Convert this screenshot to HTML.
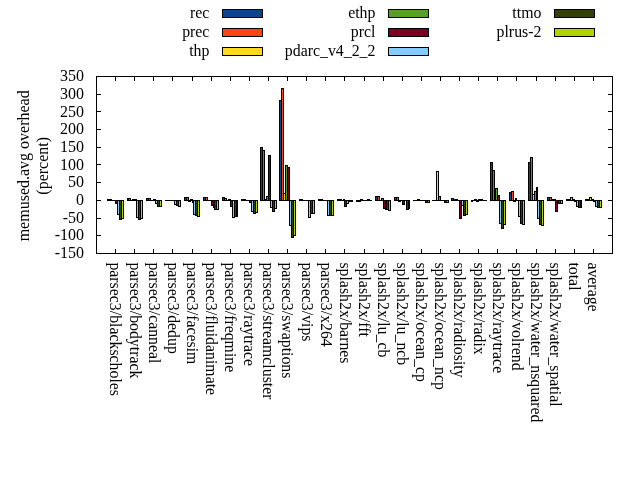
<!DOCTYPE html>
<html><head><meta charset="utf-8"><title>memused.avg overhead</title>
<style>
html,body{margin:0;padding:0;background:#fff;}
svg{display:block;will-change:transform;}
text{font-family:"Liberation Serif",serif;fill:#000;}
</style></head>
<body>
<svg width="640" height="480" viewBox="0 0 640 480" font-size="16">
<rect width="640" height="480" fill="#fff"/>
<g shape-rendering="crispEdges">
<path fill="#000" d="M107 199h3v2h-3zM127 198h2v3h-2zM146 198h3v3h-3zM165 200h3v1h-3zM184 197h3v4h-3zM203 197h3v4h-3zM222 197h3v4h-3zM241 199h3v2h-3zM260 147h3v54h-3zM279 100h3v101h-3zM299 199h2v2h-2zM318 199h3v2h-3zM337 199h3v2h-3zM356 200h3v2h-3zM375 196h3v5h-3zM394 197h3v4h-3zM413 200h3v1h-3zM432 200h3v1h-3zM451 198h3v3h-3zM471 200h2v2h-2zM490 162h3v39h-3zM509 192h3v9h-3zM528 162h3v39h-3zM547 197h3v4h-3zM566 199h3v2h-3zM585 199h3v2h-3zM109 199h3v2h-3zM128 198h3v3h-3zM148 198h3v3h-3zM167 200h3v1h-3zM186 197h3v4h-3zM205 197h3v4h-3zM224 198h3v3h-3zM243 199h3v2h-3zM262 150h3v51h-3zM281 88h3v113h-3zM300 199h3v2h-3zM320 199h3v2h-3zM339 199h3v2h-3zM358 200h3v2h-3zM377 196h3v5h-3zM396 197h3v4h-3zM415 200h3v1h-3zM434 200h3v1h-3zM453 199h3v2h-3zM472 200h3v1h-3zM492 170h3v31h-3zM511 191h3v10h-3zM530 157h3v44h-3zM549 197h3v4h-3zM568 199h3v2h-3zM587 199h3v2h-3zM111 200h3v1h-3zM130 200h3v1h-3zM150 200h2v1h-2zM169 200h3v1h-3zM188 200h3v2h-3zM207 200h3v1h-3zM226 200h3v1h-3zM245 200h3v1h-3zM264 199h3v2h-3zM283 193h3v8h-3zM302 200h3v1h-3zM322 200h2v1h-2zM341 200h3v1h-3zM360 199h3v2h-3zM379 200h3v1h-3zM398 200h3v2h-3zM417 199h3v2h-3zM436 171h3v30h-3zM455 199h3v2h-3zM474 199h3v2h-3zM494 189h2v12h-2zM513 200h3v2h-3zM532 194h3v7h-3zM551 199h3v2h-3zM570 197h3v4h-3zM589 197h3v4h-3zM113 200h3v1h-3zM132 199h3v2h-3zM151 200h3v1h-3zM171 200h2v1h-2zM190 199h3v2h-3zM209 200h3v1h-3zM228 199h3v2h-3zM247 200h3v1h-3zM266 196h3v5h-3zM285 165h3v36h-3zM304 200h3v1h-3zM323 200h3v1h-3zM343 199h2v2h-2zM362 200h3v1h-3zM381 198h3v3h-3zM400 200h3v1h-3zM419 200h3v1h-3zM438 196h3v5h-3zM457 200h3v1h-3zM476 200h3v2h-3zM495 188h3v13h-3zM515 198h2v3h-2zM534 191h3v10h-3zM553 199h3v2h-3zM572 199h3v2h-3zM591 199h3v2h-3zM115 200h3v4h-3zM134 199h3v2h-3zM153 199h3v2h-3zM172 200h3v1h-3zM192 200h2v3h-2zM211 200h3v6h-3zM230 200h3v7h-3zM249 200h3v3h-3zM268 155h3v46h-3zM287 167h3v34h-3zM306 200h3v1h-3zM325 200h3v1h-3zM344 200h3v7h-3zM364 200h2v1h-2zM383 200h3v9h-3zM402 200h3v5h-3zM421 200h3v1h-3zM440 200h3v1h-3zM459 200h3v19h-3zM478 199h3v2h-3zM497 195h3v6h-3zM516 200h3v1h-3zM536 187h2v14h-2zM555 200h3v12h-3zM574 200h3v2h-3zM593 200h3v2h-3zM117 200h3v15h-3zM136 200h3v18h-3zM155 200h3v4h-3zM174 200h3v5h-3zM193 200h3v15h-3zM213 200h2v8h-2zM232 200h3v18h-3zM251 200h3v12h-3zM270 200h3v8h-3zM289 200h3v26h-3zM308 200h3v18h-3zM327 200h3v16h-3zM346 200h3v4h-3zM365 200h3v1h-3zM385 200h2v10h-2zM404 200h3v1h-3zM423 200h3v1h-3zM442 200h3v1h-3zM461 200h3v6h-3zM480 199h3v2h-3zM499 200h3v24h-3zM518 200h3v17h-3zM537 200h3v19h-3zM557 200h2v4h-2zM576 200h3v7h-3zM595 200h3v7h-3zM119 200h3v20h-3zM138 200h3v20h-3zM157 200h3v7h-3zM176 200h3v6h-3zM195 200h3v16h-3zM214 200h3v10h-3zM234 200h3v17h-3zM253 200h3v14h-3zM272 200h3v12h-3zM291 200h3v38h-3zM310 200h3v14h-3zM329 200h3v16h-3zM348 200h3v2h-3zM367 199h3v2h-3zM386 200h3v10h-3zM406 200h3v10h-3zM425 200h3v3h-3zM444 200h3v3h-3zM463 200h3v16h-3zM482 200h3v1h-3zM501 200h3v29h-3zM520 200h3v24h-3zM539 200h3v25h-3zM558 200h3v4h-3zM578 200h3v8h-3zM597 200h3v8h-3zM121 200h3v19h-3zM140 200h3v19h-3zM159 200h3v7h-3zM178 200h3v7h-3zM197 200h3v17h-3zM216 200h3v10h-3zM236 200h2v17h-2zM255 200h3v13h-3zM274 200h3v9h-3zM293 200h3v36h-3zM312 200h3v14h-3zM331 200h3v16h-3zM350 200h3v2h-3zM369 200h3v1h-3zM388 200h3v11h-3zM408 200h2v9h-2zM427 200h3v3h-3zM446 200h3v3h-3zM465 200h3v15h-3zM484 200h3v1h-3zM503 200h3v25h-3zM522 200h3v25h-3zM541 200h3v26h-3zM560 200h3v4h-3zM580 200h2v8h-2zM599 200h3v8h-3z"/>
<path fill="#07468a" d="M147 199h1v1h-1zM185 198h1v2h-1zM204 198h1v2h-1zM223 198h1v2h-1zM261 148h1v52h-1zM280 101h1v99h-1zM376 197h1v3h-1zM395 198h1v2h-1zM452 199h1v1h-1zM491 163h1v37h-1zM510 193h1v7h-1zM529 163h1v37h-1zM548 198h1v2h-1z"/>
<path fill="#ff4411" d="M129 199h1v1h-1zM149 199h1v1h-1zM187 198h1v2h-1zM206 198h1v2h-1zM225 199h1v1h-1zM263 151h1v49h-1zM282 89h1v111h-1zM378 197h1v3h-1zM397 198h1v2h-1zM493 171h1v29h-1zM512 192h1v8h-1zM531 158h1v42h-1zM550 198h1v2h-1z"/>
<path fill="#ffd920" d="M284 194h1v6h-1zM437 172h1v28h-1zM533 195h1v5h-1zM571 198h1v2h-1zM590 198h1v2h-1z"/>
<path fill="#56a022" d="M267 197h1v3h-1zM286 166h1v34h-1zM382 199h1v1h-1zM439 197h1v3h-1zM496 189h1v11h-1zM535 192h1v8h-1z"/>
<path fill="#7d0022" d="M116 201h1v2h-1zM212 201h1v4h-1zM231 201h1v5h-1zM250 201h1v1h-1zM269 156h1v44h-1zM288 168h1v32h-1zM345 201h1v5h-1zM384 201h1v7h-1zM403 201h1v3h-1zM460 201h1v17h-1zM498 196h1v4h-1zM556 201h1v10h-1z"/>
<path fill="#82ccff" d="M118 201h1v13h-1zM137 201h1v16h-1zM156 201h1v2h-1zM175 201h1v3h-1zM194 201h1v13h-1zM233 201h1v16h-1zM252 201h1v10h-1zM271 201h1v6h-1zM290 201h1v24h-1zM309 201h1v16h-1zM328 201h1v14h-1zM347 201h1v2h-1zM462 201h1v4h-1zM500 201h1v22h-1zM519 201h1v15h-1zM538 201h1v17h-1zM577 201h1v5h-1zM596 201h1v5h-1z"/>
<path fill="#334108" d="M120 201h1v18h-1zM139 201h1v18h-1zM158 201h1v5h-1zM177 201h1v4h-1zM196 201h1v14h-1zM215 201h1v8h-1zM235 201h1v15h-1zM254 201h1v12h-1zM273 201h1v10h-1zM292 201h1v36h-1zM311 201h1v12h-1zM330 201h1v14h-1zM387 201h1v8h-1zM407 201h1v8h-1zM426 201h1v1h-1zM445 201h1v1h-1zM464 201h1v14h-1zM502 201h1v27h-1zM521 201h1v22h-1zM540 201h1v23h-1zM559 201h1v2h-1zM579 201h1v6h-1zM598 201h1v6h-1z"/>
<path fill="#b0d400" d="M122 201h1v17h-1zM141 201h1v17h-1zM160 201h1v5h-1zM179 201h1v5h-1zM198 201h1v15h-1zM217 201h1v8h-1zM256 201h1v11h-1zM275 201h1v7h-1zM294 201h1v34h-1zM313 201h1v12h-1zM332 201h1v14h-1zM389 201h1v9h-1zM428 201h1v1h-1zM447 201h1v1h-1zM466 201h1v13h-1zM504 201h1v23h-1zM523 201h1v23h-1zM542 201h1v24h-1zM561 201h1v2h-1zM600 201h1v6h-1z"/>
</g>
<g stroke="#000" stroke-width="1" fill="none">
<rect x="96.5" y="76.5" width="516" height="177"/>
<path d="M96.5 235.5h4.5M612.5 235.5h-4.5M96.5 218.5h4.5M612.5 218.5h-4.5M96.5 200.5h4.5M612.5 200.5h-4.5M96.5 182.5h4.5M612.5 182.5h-4.5M96.5 164.5h4.5M612.5 164.5h-4.5M96.5 147.5h4.5M612.5 147.5h-4.5M96.5 129.5h4.5M612.5 129.5h-4.5M96.5 111.5h4.5M612.5 111.5h-4.5M96.5 94.5h4.5M612.5 94.5h-4.5M115.5 253.5v-4.5M115.5 76.5v4.5M134.5 253.5v-4.5M134.5 76.5v4.5M153.5 253.5v-4.5M153.5 76.5v4.5M172.5 253.5v-4.5M172.5 76.5v4.5M192.5 253.5v-4.5M192.5 76.5v4.5M211.5 253.5v-4.5M211.5 76.5v4.5M230.5 253.5v-4.5M230.5 76.5v4.5M249.5 253.5v-4.5M249.5 76.5v4.5M268.5 253.5v-4.5M268.5 76.5v4.5M287.5 253.5v-4.5M287.5 76.5v4.5M306.5 253.5v-4.5M306.5 76.5v4.5M325.5 253.5v-4.5M325.5 76.5v4.5M344.5 253.5v-4.5M344.5 76.5v4.5M364.5 253.5v-4.5M364.5 76.5v4.5M383.5 253.5v-4.5M383.5 76.5v4.5M402.5 253.5v-4.5M402.5 76.5v4.5M421.5 253.5v-4.5M421.5 76.5v4.5M440.5 253.5v-4.5M440.5 76.5v4.5M459.5 253.5v-4.5M459.5 76.5v4.5M478.5 253.5v-4.5M478.5 76.5v4.5M497.5 253.5v-4.5M497.5 76.5v4.5M516.5 253.5v-4.5M516.5 76.5v4.5M536.5 253.5v-4.5M536.5 76.5v4.5M555.5 253.5v-4.5M555.5 76.5v4.5M574.5 253.5v-4.5M574.5 76.5v4.5M593.5 253.5v-4.5M593.5 76.5v4.5"/>
</g>
<g text-anchor="end">
<text x="84" y="258.10">-150</text>
<text x="84" y="240.40">-100</text>
<text x="84" y="222.70">-50</text>
<text x="84" y="205.00">0</text>
<text x="84" y="187.30">50</text>
<text x="84" y="169.60">100</text>
<text x="84" y="151.90">150</text>
<text x="84" y="134.20">200</text>
<text x="84" y="116.50">250</text>
<text x="84" y="98.80">300</text>
<text x="84" y="81.10">350</text>
</g>
<g font-size="15.84">
<text transform="translate(110.41,262.4) rotate(90)">parsec3/blackscholes</text>
<text transform="translate(129.52,262.4) rotate(90)">parsec3/bodytrack</text>
<text transform="translate(148.63,262.4) rotate(90)">parsec3/canneal</text>
<text transform="translate(167.74,262.4) rotate(90)">parsec3/dedup</text>
<text transform="translate(186.86,262.4) rotate(90)">parsec3/facesim</text>
<text transform="translate(205.97,262.4) rotate(90)">parsec3/fluidanimate</text>
<text transform="translate(225.08,262.4) rotate(90)">parsec3/freqmine</text>
<text transform="translate(244.19,262.4) rotate(90)">parsec3/raytrace</text>
<text transform="translate(263.30,262.4) rotate(90)">parsec3/streamcluster</text>
<text transform="translate(282.41,262.4) rotate(90)">parsec3/swaptions</text>
<text transform="translate(301.52,262.4) rotate(90)">parsec3/vips</text>
<text transform="translate(320.63,262.4) rotate(90)">parsec3/x264</text>
<text transform="translate(339.74,262.4) rotate(90)">splash2x/barnes</text>
<text transform="translate(358.86,262.4) rotate(90)">splash2x/fft</text>
<text transform="translate(377.97,262.4) rotate(90)">splash2x/lu_cb</text>
<text transform="translate(397.08,262.4) rotate(90)">splash2x/lu_ncb</text>
<text transform="translate(416.19,262.4) rotate(90)">splash2x/ocean_cp</text>
<text transform="translate(435.30,262.4) rotate(90)">splash2x/ocean_ncp</text>
<text transform="translate(454.41,262.4) rotate(90)">splash2x/radiosity</text>
<text transform="translate(473.52,262.4) rotate(90)">splash2x/radix</text>
<text transform="translate(492.63,262.4) rotate(90)">splash2x/raytrace</text>
<text transform="translate(511.74,262.4) rotate(90)">splash2x/volrend</text>
<text transform="translate(530.86,262.4) rotate(90)">splash2x/water_nsquared</text>
<text transform="translate(549.97,262.4) rotate(90)">splash2x/water_spatial</text>
<text transform="translate(569.08,262.4) rotate(90)">total</text>
<text transform="translate(588.19,262.4) rotate(90)">average</text>
</g>
<g text-anchor="middle">
<text transform="translate(29.2,165.8) rotate(-90)">memused.avg overhead</text>
<text transform="translate(48.2,165.8) rotate(-90)">(percent)</text>
</g>
<g font-size="15.84">
<text x="209.4" y="17.8" text-anchor="end">rec</text>
<rect x="222.5" y="9.5" width="40" height="8" fill="#07468a" stroke="#000" stroke-width="1"/>
<text x="209.4" y="36.8" text-anchor="end">prec</text>
<rect x="222.5" y="28.5" width="40" height="8" fill="#ff4411" stroke="#000" stroke-width="1"/>
<text x="209.4" y="55.8" text-anchor="end">thp</text>
<rect x="222.5" y="47.5" width="40" height="8" fill="#ffd920" stroke="#000" stroke-width="1"/>
<text x="375.4" y="17.8" text-anchor="end">ethp</text>
<rect x="388.5" y="9.5" width="40" height="8" fill="#56a022" stroke="#000" stroke-width="1"/>
<text x="375.4" y="36.8" text-anchor="end">prcl</text>
<rect x="388.5" y="28.5" width="40" height="8" fill="#7d0022" stroke="#000" stroke-width="1"/>
<text x="375.4" y="55.8" text-anchor="end">pdarc_v4_2_2</text>
<rect x="388.5" y="47.5" width="40" height="8" fill="#82ccff" stroke="#000" stroke-width="1"/>
<text x="541.4" y="17.8" text-anchor="end">ttmo</text>
<rect x="554.5" y="9.5" width="40" height="8" fill="#334108" stroke="#000" stroke-width="1"/>
<text x="541.4" y="36.8" text-anchor="end">plrus-2</text>
<rect x="554.5" y="28.5" width="40" height="8" fill="#b0d400" stroke="#000" stroke-width="1"/>
</g>
</svg>
</body></html>
